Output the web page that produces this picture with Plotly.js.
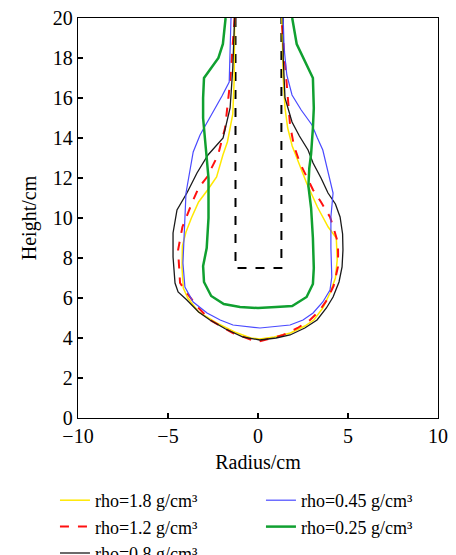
<!DOCTYPE html>
<html>
<head>
<meta charset="utf-8">
<script src="https://cdn.plot.ly/plotly-3.0.1.min.js"></script>
<style>html,body{margin:0;padding:0;background:#fff;}#chart{width:456px;height:555px;}</style>
</head>
<body>
<div id="chart"></div>
<script>
// Series names
const seriesNames = ["rho=1.8 g/cm³", "rho=1.2 g/cm³", "rho=0.8 g/cm³", "rho=0.45 g/cm³", "rho=0.25 g/cm³"];

// rho = 1.8 g/cm3 (yellow)
const x18 = [-1.3, -1.32, -1.4, -1.7, -1.95, -2.3, -2.8, -3.3, -3.7, -4.0, -4.2, -4.22, -4.15, -3.9, -3.3, -2.3, -1.3, -0.4, 0.1, 0.9, 1.8, 2.6, 3.1, 3.6, 4.0, 4.3, 4.4, 4.35, 3.9, 3.3, 2.7, 2.2, 1.9, 1.65, 1.5, 1.4, 1.33];
const y18 = [20, 17, 15.2, 13.8, 13.15, 12.05, 11.4, 10.8, 10.0, 9.3, 8.6, 7.5, 6.5, 6.0, 5.3, 4.75, 4.3, 4.0, 3.95, 4.05, 4.25, 4.6, 4.9, 5.5, 6.25, 7.0, 7.9, 9.0, 9.55, 10.55, 11.75, 12.9, 13.6, 14.5, 15.5, 17, 20];

// rho = 1.2 g/cm3 (red dashed)
const x12 = [-1.3, -1.4, -1.55, -1.83, -2.22, -2.83, -3.3, -3.6, -4.0, -4.2, -4.44, -4.4, -4.33, -3.95, -3.4, -2.67, -1.39, -0.06, 1.39, 2.2, 2.89, 3.4, 3.83, 4.2, 4.44, 4.45, 4.44, 4.2, 4.0, 3.5, 3.06, 2.33, 2.0, 1.78, 1.6, 1.45, 1.3];
const y12 = [20, 18.5, 16.8, 14.5, 13.15, 12.05, 11.5, 10.9, 10.0, 9.55, 8.4, 7.5, 6.75, 6.25, 5.6, 4.9, 4.25, 3.8, 4.15, 4.5, 4.9, 5.35, 5.9, 6.6, 7.55, 8.2, 8.75, 9.5, 10.05, 10.8, 11.4, 12.75, 13.6, 14.65, 16.8, 18.5, 20];

// rho = 0.8 g/cm3 (black)
const x08 = [-1.3, -1.4, -1.55, -1.94, -2.78, -3.39, -3.95, -4.5, -4.72, -4.72, -4.61, -4.44, -3.95, -3.3, -2.67, -1.8, -0.83, 0.1, 1.0, 1.78, 2.6, 3.28, 3.8, 4.17, 4.5, 4.67, 4.72, 4.7, 4.56, 4.3, 3.89, 3.5, 3.06, 2.78, 2.3, 1.89, 1.5, 1.4, 1.4];
const y08 = [20, 17.5, 15.5, 14.0, 13.15, 12.25, 11.25, 10.4, 9.25, 8.05, 6.75, 6.3, 5.9, 5.3, 4.9, 4.45, 4.05, 3.9, 4.0, 4.15, 4.5, 4.9, 5.5, 6.05, 6.8, 7.55, 8.4, 9.2, 10.05, 10.7, 11.25, 12.0, 12.75, 13.4, 14.1, 14.8, 16.0, 18, 20];

// rho = 0.45 g/cm3 (blue)
const x045 = [-1.5, -1.55, -1.6, -2.0, -2.39, -2.8, -3.22, -3.6, -4.0, -4.06, -4.1, -4.17, -4.06, -3.6, -2.83, -2.1, -1.39, 0.11, 1.78, 2.5, 3.06, 3.6, 4.0, 4.1, 4.05, 4.05, 4.17, 3.9, 3.6, 3.3, 3.0, 2.4, 1.89, 1.6, 1.45, 1.4];
const y045 = [20, 18.5, 16.8, 16.1, 15.5, 14.8, 14.15, 13.3, 11.25, 10.0, 9.25, 7.75, 6.55, 5.8, 5.25, 4.9, 4.65, 4.5, 4.65, 4.9, 5.25, 5.8, 6.4, 7.05, 8.5, 10.05, 11.25, 12.3, 13.4, 14.0, 14.65, 15.4, 16.15, 17.15, 18.5, 20];

// rho = 0.25 g/cm3 (green)
const x025 = [-1.8, -1.95, -2.2, -3.0, -3.05, -3.05, -2.9, -2.75, -2.75, -2.85, -3.05, -3.0, -2.6, -1.9, -1.0, 0.0, 1.0, 1.9, 2.7, 3.05, 3.1, 3.05, 2.95, 2.8, 2.85, 2.95, 3.05, 3.1, 3.05, 2.5, 2.15, 1.9];
const y025 = [20, 18.7, 18, 17.0, 16, 15, 13.5, 12, 10, 8.5, 7.6, 6.8, 6.1, 5.7, 5.55, 5.5, 5.55, 5.6, 6.05, 6.7, 7.5, 9, 10.5, 11.6, 12.5, 13.2, 14.5, 15.5, 17.0, 18, 18.7, 20];

// Charge hole outline (black dashed)
const xHole = [-1.25, -1.25, 1.3, 1.3];
const yHole = [20, 7.5, 7.5, 20];

const xTicks = [-10, -5, 0, 5, 10];
const yTicks = [0, 2, 4, 6, 8, 10, 12, 14, 16, 18, 20];

const FONT = '"Liberation Serif", serif';

const traces = [
  {x: xHole, y: yHole, mode: "lines", line: {color: "#000000", width: 2, dash: "dash"}, showlegend: false, hoverinfo: "skip"},
  {x: x18, y: y18, name: seriesNames[0], mode: "lines", line: {color: "#ffe800", width: 1.5}, legendrank: 1},
  {x: x12, y: y12, name: seriesNames[1], mode: "lines", line: {color: "#ff1010", width: 2, dash: "dash"}, legendrank: 3},
  {x: x08, y: y08, name: seriesNames[2], mode: "lines", line: {color: "#1a1a1a", width: 1.3}, legendrank: 5},
  {x: x045, y: y045, name: seriesNames[3], mode: "lines", line: {color: "#4a4aff", width: 1.2}, legendrank: 2},
  {x: x025, y: y025, name: seriesNames[4], mode: "lines", line: {color: "#10a030", width: 2.5}, legendrank: 4}
];

const layout = {
  width: 456, height: 555,
  margin: {l: 78, r: 18, t: 18, b: 137, autoexpand: false},
  paper_bgcolor: "#ffffff", plot_bgcolor: "#ffffff",
  font: {family: FONT, size: 20, color: "#000000"},
  showlegend: true,
  xaxis: {
    range: [-10, 10], tickvals: xTicks, ticks: "inside", ticklen: 5, tickwidth: 1.2, tickcolor: "#000",
    showline: true, mirror: true, linecolor: "#000", linewidth: 1.3, showgrid: false, zeroline: false,
    tickfont: {family: FONT, size: 20}, title: {text: "Radius/cm", font: {family: FONT, size: 20}, standoff: 8}
  },
  yaxis: {
    range: [0, 20], tickvals: yTicks, ticks: "inside", ticklen: 5, tickwidth: 1.2, tickcolor: "#000",
    showline: true, mirror: true, linecolor: "#000", linewidth: 1.3, showgrid: false, zeroline: false,
    tickfont: {family: FONT, size: 20}, title: {text: "Height/cm", font: {family: FONT, size: 20}, standoff: 10}
  },
  legend: {
    orientation: "h", x: -0.064, xanchor: "left", y: -0.16, yanchor: "top",
    entrywidth: 161, entrywidthmode: "pixels", font: {family: FONT, size: 18},
    bgcolor: "rgba(0,0,0,0)", itemwidth: 30, traceorder: "normal"
  }
};

Plotly.newPlot("chart", traces, layout, {displayModeBar: false, staticPlot: true});
</script>
</body>
</html>
